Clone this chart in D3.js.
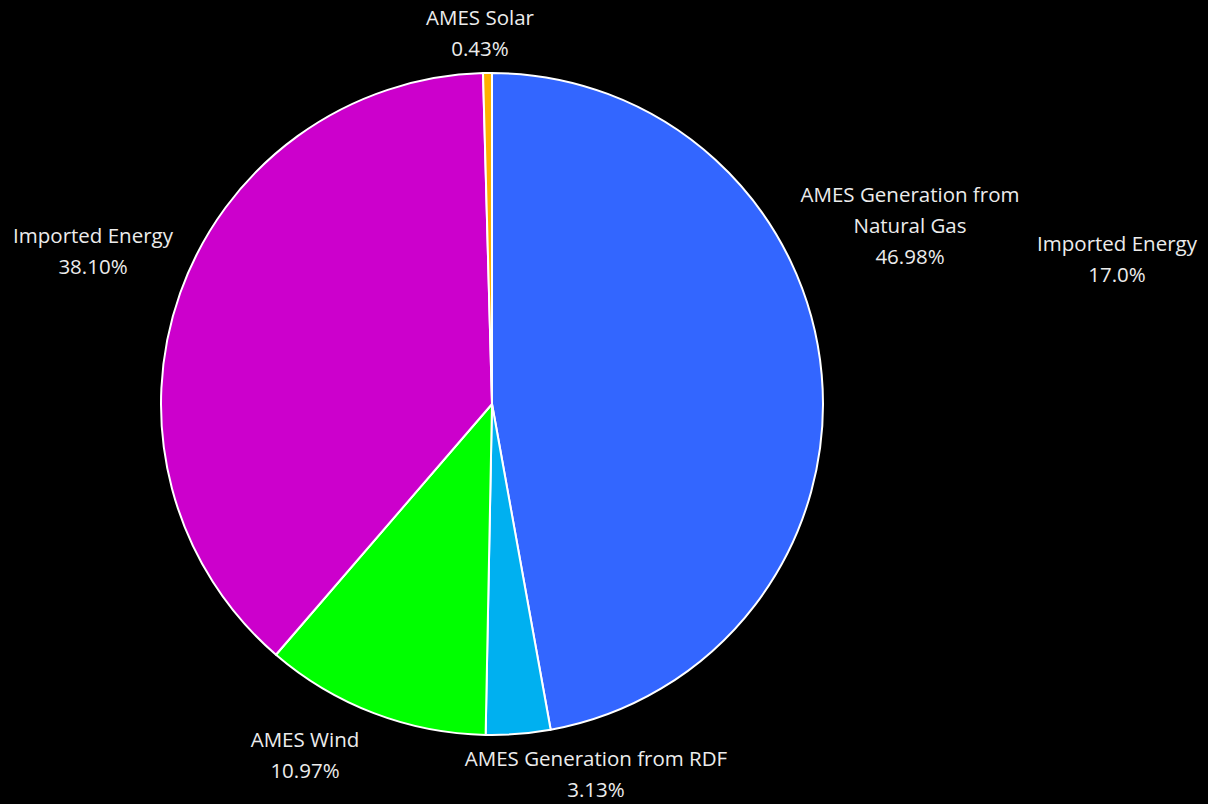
<!DOCTYPE html>
<html><head><meta charset="utf-8">
<script src="https://cdn.jsdelivr.net/npm/d3@7"></script>
<style>html,body{margin:0;padding:0;background:#000;}svg{display:block;}</style>
</head><body>
<svg id="c" width="1208" height="804"></svg>
<script>
const categories = ["AMES Generation from Natural Gas", "AMES Generation from RDF", "AMES Wind", "Imported Energy", "AMES Solar"];
const values = [46.98, 3.13, 10.97, 38.10, 0.43];
const colors = ["#3366FF", "#00B0F0", "#00FF00", "#CC00CC", "#FFB000"];
const labelLines = [["AMES Generation from", "Natural Gas"], ["AMES Generation from RDF"], ["AMES Wind"], ["Imported Energy"], ["AMES Solar"]];
const strayLabel = ["Imported Energy", "17.0%"];

// layout (label anchor positions, px)
const labelPos = [[910, 195], [596, 759], [305, 740], [93, 236], [480, 18]];
const strayPos = [1117, 244];

const W = 1208, H = 804;
const cx = 492, cy = 404, R = 331;
const svg = d3.select("#c");
svg.append("rect").attr("width", W).attr("height", H).attr("fill", "#000");

const pie = d3.pie().sort(null).value(d => d.v);
const arc = d3.arc().innerRadius(0).outerRadius(R);
const data = categories.map((c, i) => ({c, v: values[i], col: colors[i], lines: labelLines[i], pos: labelPos[i]}));
const g = svg.append("g").attr("transform", `translate(${cx},${cy})`);
g.selectAll("path").data(pie(data)).join("path")
  .attr("d", arc).attr("fill", d => d.data.col)
  .attr("stroke", "#fff").attr("stroke-width", 2).attr("stroke-linejoin", "round");

const font = "'Open Sans', sans-serif";
const lh = 31;
function addLabel(lines, x, y) {
  const t = svg.append("text").attr("text-anchor", "middle")
    .attr("font-family", font).attr("font-size", 20.5).attr("fill", "#ececec");
  lines.forEach((l, i) => t.append("tspan").attr("x", x).attr("y", y + i * lh).attr("dy", "0.35em").text(l));
}
data.forEach(d => addLabel([...d.lines, d.v.toFixed(2) + "%"], d.pos[0], d.pos[1]));
addLabel(strayLabel, strayPos[0], strayPos[1]);
</script>
</body></html>
